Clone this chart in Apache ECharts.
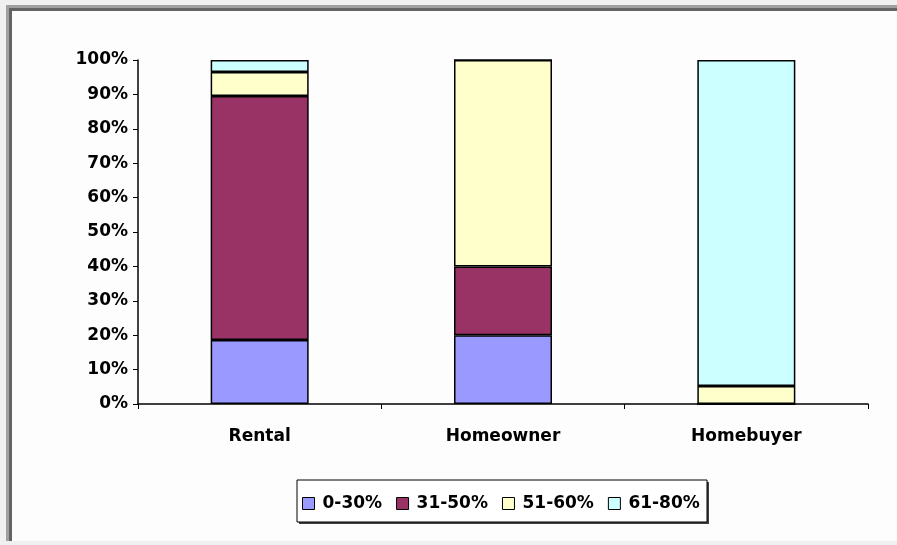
<!DOCTYPE html>
<html><head><meta charset="utf-8">
<script src="https://cdn.jsdelivr.net/npm/echarts@6/dist/echarts.min.js"></script>
<style>html,body{margin:0;padding:0;background:#f0f0f0;}#c{width:897px;height:545px;}</style>
</head><body><div id="c"></div>
<script>
const categories = ['Rental', 'Homeowner', 'Homebuyer'];
const seriesNames = ['0-30%', '31-50%', '51-60%', '61-80%'];
const band0to30 = [18.6, 20, 0];
const band31to50 = [70.9, 20, 0];
const band51to60 = [7.0, 60, 5.2];
const band61to80 = [3.5, 0, 94.8];
const yTicks = [0, 10, 20, 30, 40, 50, 60, 70, 80, 90, 100];
const colors = ['#9999ff', '#993366', '#ffffcc', '#ccffff'];

const chart = echarts.init(document.getElementById('c'));
const font = 'DejaVu Sans, Arial, sans-serif';
const data = [band0to30, band31to50, band51to60, band61to80];
chart.setOption({
  animation: false,
  backgroundColor: 'transparent',
  graphic: [
    {type:'rect', z:-10, shape:{x:6,y:5,width:900,height:536}, style:{fill:'#fdfdfd'}},
    {type:'rect', z:-9, shape:{x:6,y:5,width:900,height:3}, style:{fill:'#a0a0a0'}},
    {type:'rect', z:-9, shape:{x:6,y:5,width:3,height:536}, style:{fill:'#a0a0a0'}},
    {type:'rect', z:-9, shape:{x:9,y:8,width:900,height:3}, style:{fill:'#646464'}},
    {type:'rect', z:-9, shape:{x:9,y:8,width:3,height:533}, style:{fill:'#646464'}},
    {type:'rect', z:-1, shape:{x:299,y:482,width:410,height:42}, style:{fill:'#404040'}},
    {type:'rect', z:0, shape:{x:297,y:480,width:410,height:42}, style:{fill:'#ffffff', stroke:'#000', lineWidth:1}}
  ],
  grid: {left:138, right:29, top:60, bottom:141},
  legend: {
    data: seriesNames, left: 302, top: 495, padding: 0, itemWidth: 12, itemHeight: 12, itemGap: 14,
    icon: 'rect', z: 5,
    itemStyle: {borderColor:'#000', borderWidth:1},
    textStyle: {fontFamily:font, fontWeight:'bold', fontSize:17, color:'#000', padding:[0,0,0,3]}
  },
  xAxis: {
    type:'category', data: categories, boundaryGap:true,
    axisLine:{lineStyle:{color:'#000', width:1.5}},
    axisTick:{show:true, length:5, inside:false, lineStyle:{color:'#000'}},
    axisLabel:{fontFamily:font, fontWeight:'bold', fontSize:17, color:'#000', margin:24}
  },
  yAxis: {
    type:'value', min:0, max:100, interval:10,
    axisLine:{show:true, lineStyle:{color:'#000', width:1.5}},
    axisTick:{show:true, length:5, lineStyle:{color:'#000'}},
    splitLine:{show:false},
    axisLabel:{fontFamily:font, fontWeight:'bold', fontSize:17, color:'#000', margin:10,
      formatter: v => yTicks.includes(v) ? v + '%' : ''}
  },
  series: seriesNames.map((n, i) => ({
    name: n, type:'bar', stack:'total', data: data[i], barWidth: 98,
    itemStyle:{color: colors[i], borderColor:'#000', borderWidth:1.5}
  }))
});
</script></body></html>
